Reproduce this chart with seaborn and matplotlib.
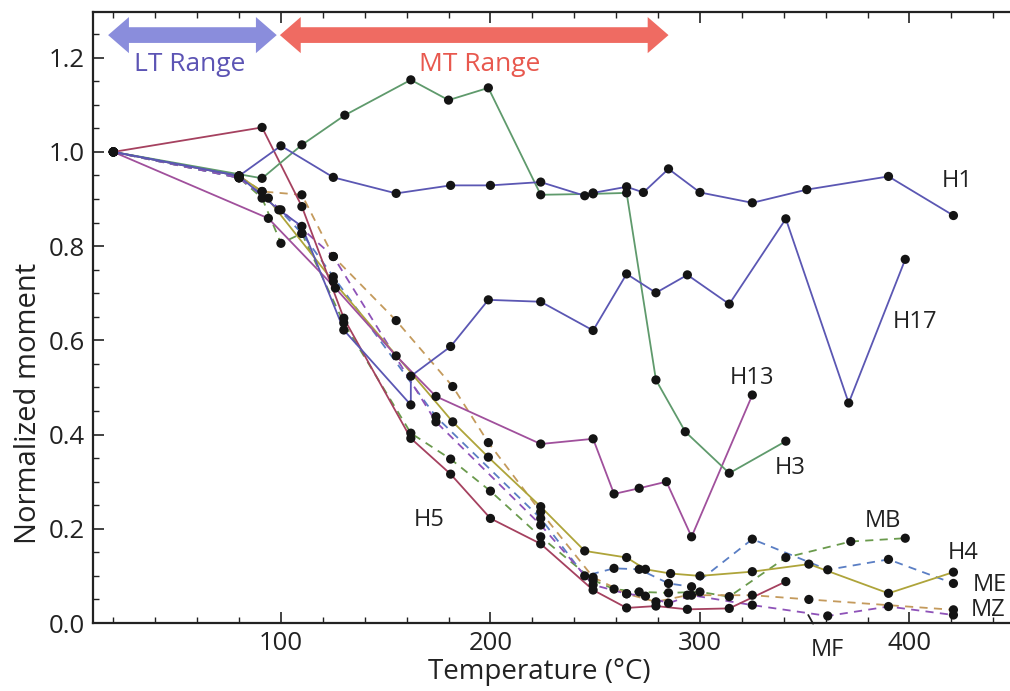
import numpy as np
import pandas as pd
import matplotlib
matplotlib.use('Agg')
import matplotlib.pyplot as plt
import seaborn as sns
from matplotlib.patches import FancyArrowPatch
from matplotlib.ticker import MultipleLocator

sns.set_theme(style='white')
plt.rcParams['font.family'] = ['Open Sans', 'DejaVu Sans']

# ---------------- data (temperature in C, normalized moment) ----------------
H1_T = [20, 80, 100, 125, 155, 181, 200, 224, 245, 249, 265, 273, 285, 300, 325, 351, 390, 421]
H1_v = [1.0, 0.949, 1.013, 0.946, 0.912, 0.929, 0.929, 0.936, 0.907, 0.913, 0.926, 0.914, 0.964, 0.914, 0.892, 0.920, 0.948, 0.865]

H3_T = [20, 91, 110, 130.5, 162, 180, 199, 224, 249, 265, 279, 293, 314, 341]
H3_v = [1.0, 0.944, 1.015, 1.078, 1.153, 1.110, 1.136, 0.909, 0.911, 0.913, 0.516, 0.406, 0.318, 0.386]

H17_T = [20, 80, 99, 110, 130, 162, 162, 181, 199, 224, 249, 265, 279, 294, 314, 341, 371, 398]
H17_v = [1.0, 0.949, 0.877, 0.842, 0.622, 0.463, 0.524, 0.587, 0.686, 0.682, 0.621, 0.741, 0.701, 0.739, 0.677, 0.858, 0.467, 0.772]

H13_T = [20, 94, 126, 155, 174, 224, 249, 259, 271, 284, 296, 325]
H13_v = [1.0, 0.859, 0.711, 0.567, 0.481, 0.380, 0.391, 0.274, 0.286, 0.300, 0.183, 0.484]

H5_T = [20, 91, 110, 130, 162, 181, 200, 224, 249, 265, 279, 294, 314, 341]
H5_v = [1.0, 1.052, 0.884, 0.647, 0.392, 0.316, 0.222, 0.168, 0.070, 0.032, 0.036, 0.029, 0.031, 0.088]

H4_T = [20, 80, 91, 125, 182, 199, 224, 245, 265, 274, 286, 300, 325, 352, 390, 421]
H4_v = [1.0, 0.949, 0.916, 0.725, 0.427, 0.352, 0.247, 0.153, 0.139, 0.114, 0.105, 0.100, 0.109, 0.125, 0.063, 0.108]

ME_T = [20, 80, 94, 110, 125, 174, 224, 245, 259, 271, 285, 296, 325, 361, 390, 421]
ME_v = [1.0, 0.945, 0.902, 0.827, 0.735, 0.438, 0.222, 0.100, 0.116, 0.114, 0.084, 0.077, 0.178, 0.113, 0.135, 0.084]

MB_T = [20, 80, 91, 100, 110, 130, 162, 181, 200, 224, 249, 259, 271, 285, 300, 314, 341, 372, 398]
MB_v = [1.0, 0.945, 0.902, 0.806, 0.827, 0.637, 0.403, 0.348, 0.280, 0.183, 0.091, 0.072, 0.066, 0.064, 0.066, 0.056, 0.139, 0.173, 0.180]

MZ_T = [20, 80, 91, 110, 125, 155, 182, 199, 224, 249, 265, 279, 294, 325, 352, 421]
MZ_v = [1.0, 0.949, 0.916, 0.909, 0.778, 0.642, 0.502, 0.383, 0.236, 0.097, 0.062, 0.045, 0.059, 0.059, 0.050, 0.028]

MF_T = [20, 80, 100, 125, 174, 224, 249, 265, 274, 285, 296, 325, 361, 390, 421]
MF_v = [1.0, 0.945, 0.877, 0.778, 0.427, 0.208, 0.081, 0.062, 0.057, 0.042, 0.059, 0.038, 0.015, 0.035, 0.017]

series_names = ['MB', 'ME', 'MZ', 'MF', 'H4', 'H5', 'H13', 'H3', 'H17', 'H1']
series_T = {'H1': H1_T, 'H3': H3_T, 'H17': H17_T, 'H13': H13_T, 'H5': H5_T,
            'H4': H4_T, 'ME': ME_T, 'MB': MB_T, 'MZ': MZ_T, 'MF': MF_T}
series_v = {'H1': H1_v, 'H3': H3_v, 'H17': H17_v, 'H13': H13_v, 'H5': H5_v,
            'H4': H4_v, 'ME': ME_v, 'MB': MB_v, 'MZ': MZ_v, 'MF': MF_v}

# label positions (data coords)
label_names = ['H1', 'H17', 'H13', 'H3', 'H5', 'MB', 'H4', 'ME', 'MZ']
label_T = [423, 402.6, 324.8, 343, 171, 387.4, 425.5, 438.4, 437.5]
label_v = [0.938, 0.639, 0.520, 0.329, 0.219, 0.217, 0.149, 0.081, 0.028]

# ---------------- styles ----------------
colors = {'H1': '#5b57b3', 'H17': '#5b57b3', 'H3': '#5f9a6c', 'H13': '#a0509c',
          'H5': '#a5415f', 'H4': '#aea43a', 'MB': '#6a9a4c', 'ME': '#5a7ec4',
          'MZ': '#c49a5c', 'MF': '#8e52b8'}
dashed = {'MB', 'ME', 'MZ', 'MF'}

rows = []
for name in series_names:
    for t, v in zip(series_T[name], series_v[name]):
        rows.append({'series': name, 'T': t, 'v': v})
df = pd.DataFrame(rows)

fig = plt.figure(figsize=(10.1, 6.91), dpi=100)
ax = fig.add_axes([0.0921, 0.0984, 0.9079, 0.8842])

for name in series_names:
    sub = df[df['series'] == name]
    ls = (0, (4.5, 3.5)) if name in dashed else '-'
    sns.lineplot(data=sub, x='T', y='v', estimator=None, sort=False,
                 color=colors[name], linestyle=ls, lw=1.3, ax=ax, legend=False)

sns.scatterplot(data=df, x='T', y='v', color='#141414', s=44, edgecolor='none',
                linewidth=0, zorder=5, ax=ax, legend=False)

ax.set_xlim(10.3, 448)
ax.set_ylim(0, 1.297)

# range arrows (two overlapping single-headed arrows in opposite directions)
def double_arrow(x0, x1, y, color):
    for a_, b_ in ((x0, x1), (x1, x0)):
        a = FancyArrowPatch((a_, y), (b_, y), arrowstyle='simple,head_length=15,head_width=26,tail_width=11',
                            mutation_scale=1, color=color, lw=0, shrinkA=12, shrinkB=0, zorder=3)
        ax.add_patch(a)

double_arrow(17.5, 98, 1.248, '#8a8ddc')
double_arrow(99.5, 285, 1.248, '#ef6b62')
ax.text(56.6, 1.185, 'LT Range', color='#5c54b4', fontsize=19, ha='center', va='center')
ax.text(195, 1.185, 'MT Range', color='#e8584e', fontsize=19, ha='center', va='center')

for n, t, v in zip(label_names, label_T, label_v):
    ax.text(t, v, n, fontsize=17, ha='center', va='center', color='#222222', clip_on=False)
ax.annotate('MF', xy=(351.7, 0.017), xytext=(361, -0.057), fontsize=17, ha='center', va='center',
            color='#222222', annotation_clip=False,
            arrowprops=dict(arrowstyle='-', lw=1.3, color='#222222', shrinkA=9, shrinkB=0))

# axes styling
for s in ['left', 'bottom', 'top']:
    ax.spines[s].set_color('#222222')
    ax.spines[s].set_linewidth(1.6)
ax.spines['right'].set_visible(False)
ax.xaxis.set_major_locator(MultipleLocator(100))
ax.xaxis.set_minor_locator(MultipleLocator(20))
ax.yaxis.set_major_locator(MultipleLocator(0.2))
ax.yaxis.set_minor_locator(MultipleLocator(0.05))
ax.tick_params(which='both', direction='in', top=True, bottom=True, left=True, right=False,
               colors='#222222', labelsize=18.5)
ax.tick_params(which='major', length=8, width=1.2, pad=6)
ax.tick_params(which='minor', length=4, width=1.0)
ax.set_yticks([0, 0.2, 0.4, 0.6, 0.8, 1.0, 1.2])
ax.set_yticklabels(['0.0', '0.2', '0.4', '0.6', '0.8', '1.0', '1.2'])
ax.set_xticks([100, 200, 300, 400])
ax.set_xticklabels(['100', '200', '300', '400'])
ax.set_xlabel('Temperature (°C)', fontsize=20, color='#222222')
ax.xaxis.set_label_coords(0.487, -0.081, transform=ax.transAxes)
ax.xaxis.label.set_va('center')
ax.set_ylabel('Normalized moment', fontsize=21, color='#222222')
ax.yaxis.set_label_coords(-0.07, 0.36, transform=ax.transAxes)
ax.yaxis.label.set_va('center')

fig.savefig('out.png', dpi=100)
